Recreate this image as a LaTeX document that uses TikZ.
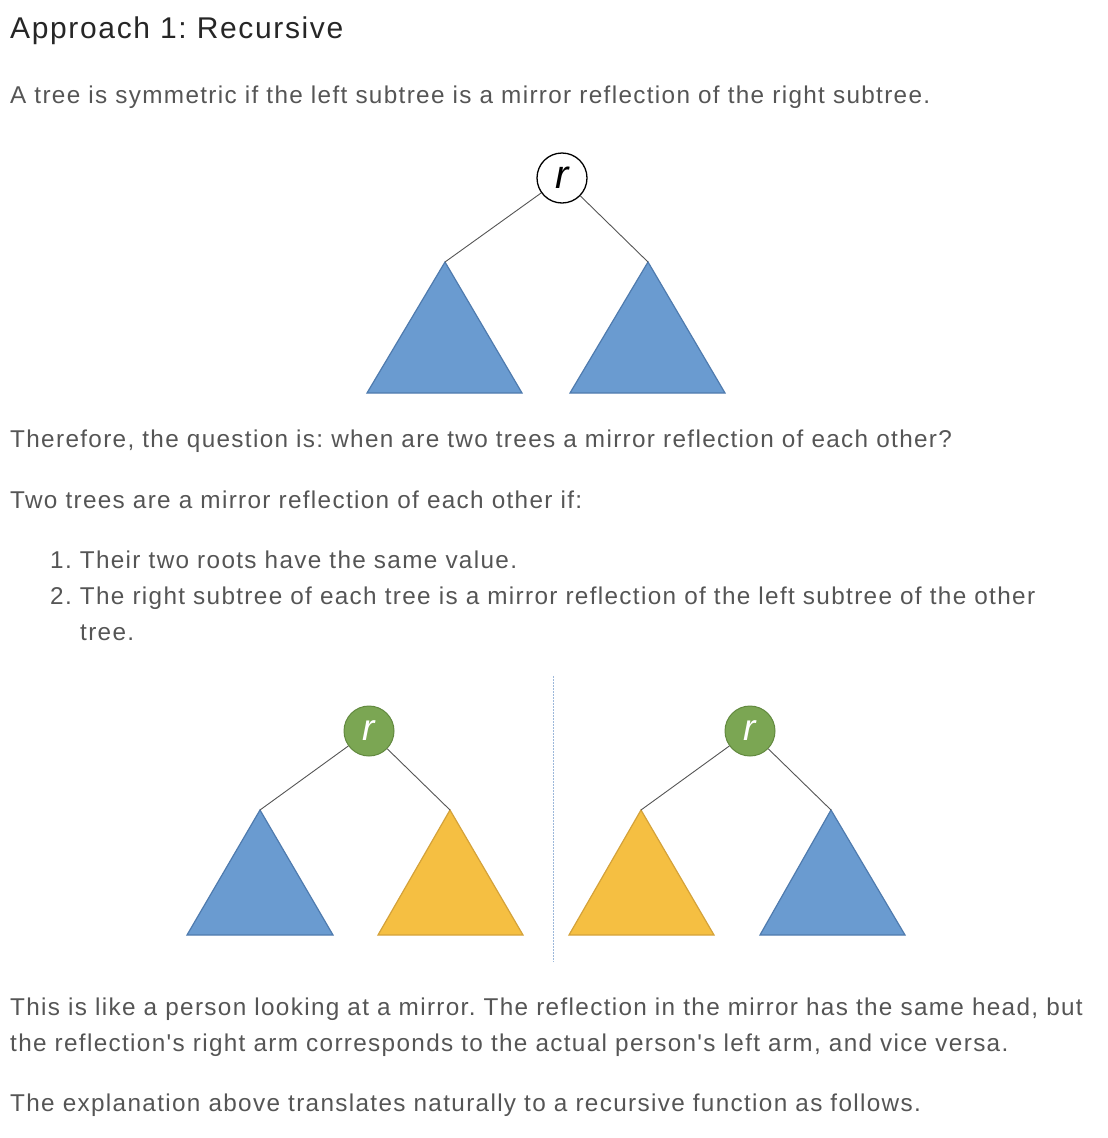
\documentclass[tikz,border=0pt]{standalone}
\usepackage{fontspec}
\setmainfont{Liberation Sans}
\newfontfamily\spaced[LetterSpace=5.5]{Liberation Sans}
\begin{document}
\frenchspacing
\begin{tikzpicture}[x=1pt,y=-1pt,
  txt/.style={anchor=base west,inner sep=0pt,text=textgray,font=\spaced\fontsize{24.3}{28}\selectfont},
  head/.style={anchor=base west,inner sep=0pt,text=headgray,font=\spaced\fontsize{30}{34}\selectfont},
  rootw/.style={circle,draw=black,line width=1.3pt,fill=white,minimum size=50pt,inner sep=0pt,font=\fontsize{40}{42}\selectfont\itshape},
  rootg/.style={circle,draw=greenedge,line width=1pt,fill=greenfill,text=white,minimum size=50pt,inner sep=0pt,font=\fontsize{37}{39}\selectfont\itshape},
  edge/.style={draw=edgegray,line width=0.9pt},
  bluetri/.style={fill=bluefill,draw=blueedge,line width=1.2pt,line join=miter},
  yeltri/.style={fill=yelfill,draw=yeledge,line width=1.2pt,line join=miter},
]
\definecolor{textgray}{HTML}{555555}
\definecolor{headgray}{HTML}{262626}
\definecolor{bluefill}{HTML}{6A9BD0}
\definecolor{blueedge}{HTML}{4F7BAE}
\definecolor{yelfill}{HTML}{F5BF42}
\definecolor{yeledge}{HTML}{D4A23A}
\definecolor{greenfill}{HTML}{7BA653}
\definecolor{greenedge}{HTML}{62893F}
\definecolor{edgegray}{HTML}{555555}
\definecolor{mirror}{HTML}{9DB8DA}
\useasboundingbox (0,0) rectangle (1108,1138);

% texts
\node[head] (h) at (10,38) {Approach 1: Recursive};
\node[txt] (t1) at (10,103) {A tree is symmetric if the left subtree is a mirror reflection of the right subtree.};
\node[txt] (t2) at (10,447) {Therefore, the question is: when are two trees a mirror reflection of each other?};
\node[txt] (t3) at (10,508) {Two trees are a mirror reflection of each other if:};
\node[txt] (t4) at (50,568) {1. Their two roots have the same value.};
\node[txt] (t5) at (50,604) {2. The right subtree of each tree is a mirror reflection of the left subtree of the other};
\node[txt] (t6) at (80,640) {tree.};
\node[txt] (t7) at (10,1015) {This is like a person looking at a mirror. The reflection in the mirror has the same head, but};
\node[txt] (t8) at (10,1051) {the reflection's right arm corresponds to the actual person's left arm, and vice versa.};
\node[txt] (t9) at (10,1111) {The explanation above translates naturally to a recursive function as follows.};

% top tree
\coordinate (a1) at (445,262);
\coordinate (a2) at (648,262);
\draw[bluetri] (a1) -- (522,393) -- (367,393) -- cycle;
\draw[bluetri] (a2) -- (725,393) -- (570,393) -- cycle;
\node[rootw] (r0) at (562,178) {r};
\draw[edge] (r0) -- (a1);
\draw[edge] (r0) -- (a2);

% mirror line
\coordinate (m1) at (553,676);
\coordinate (m2) at (553,962);
\draw[mirror,line width=1pt,dash pattern=on 1.5pt off 1.5pt] (m1) -- (m2);

% lower left tree
\coordinate (b1) at (260,810);
\coordinate (b2) at (450,810);
\draw[bluetri] (b1) -- (333,935) -- (187,935) -- cycle;
\draw[yeltri] (b2) -- (523,935) -- (378,935) -- cycle;
\node[rootg] (g1) at (369,731) {r};
\draw[edge] (g1) -- (b1);
\draw[edge] (g1) -- (b2);

% lower right tree
\coordinate (c1) at (641,810);
\coordinate (c2) at (831,810);
\draw[yeltri] (c1) -- (714,935) -- (569,935) -- cycle;
\draw[bluetri] (c2) -- (905,935) -- (760,935) -- cycle;
\node[rootg] (g2) at (750,731) {r};
\draw[edge] (g2) -- (c1);
\draw[edge] (g2) -- (c2);
\end{tikzpicture}
\end{document}
